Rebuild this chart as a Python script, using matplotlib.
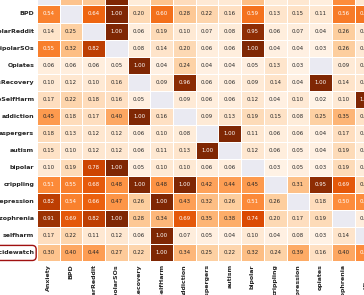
import numpy as np
import pandas as pd
import matplotlib
matplotlib.use('Agg')
import matplotlib.pyplot as plt
import seaborn as sns
from matplotlib.patches import FancyBboxPatch
from matplotlib.transforms import IdentityTransform

nan = np.nan

rows = ['Anxiety', 'BPD', 'BipolarReddit', 'BipolarSOs', 'Opiates', 'OpiatesRecovery',
        'StopSelfHarm', 'addiction', 'aspergers', 'autism', 'bipolar', 'crippling',
        'depression', 'schizophrenia', 'selfharm', 'suicidewatch']
cols = ['Anxiety', 'BPD', 'BipolarReddit', 'BipolarSOs', 'OpiatesRecovery', 'StopSelfHarm',
        'addiction', 'aspergers', 'autism', 'bipolar', 'crippling', 'depression',
        'opiates', 'schizophrenia', 'selfharm', 'suicidewatch']

# one list per row (row-normalised similarity), last columns are cut off in the reference
anxiety = [nan, 0.30, 0.28, 1.00, 0.08, 0.30, 0.18, 0.10, 0.10, 0.32, 0.08, 0.12, 0.06, 0.50, 0.12, 0.40]
bpd = [0.54, nan, 0.64, 1.00, 0.20, 0.60, 0.28, 0.22, 0.16, 0.59, 0.13, 0.15, 0.11, 0.56, 0.58, 0.45]
bipolar_reddit = [0.14, 0.25, nan, 1.00, 0.06, 0.19, 0.10, 0.07, 0.08, 0.95, 0.06, 0.07, 0.04, 0.26, 0.10, 0.15]
bipolar_sos = [0.55, 0.32, 0.82, nan, 0.08, 0.14, 0.20, 0.06, 0.06, 1.00, 0.04, 0.04, 0.03, 0.26, 0.10, 0.15]
opiates = [0.06, 0.06, 0.06, 0.05, 1.00, 0.04, 0.24, 0.04, 0.04, 0.05, 0.13, 0.03, nan, 0.09, 0.10, 0.08]
opiates_recovery = [0.10, 0.12, 0.10, 0.16, nan, 0.09, 0.96, 0.06, 0.06, 0.09, 0.14, 0.04, 1.00, 0.14, 0.10, 0.10]
stop_selfharm = [0.17, 0.22, 0.18, 0.16, 0.05, nan, 0.09, 0.06, 0.06, 0.12, 0.04, 0.10, 0.02, 0.10, 1.00, 0.30]
addiction = [0.45, 0.18, 0.17, 0.40, 1.00, 0.16, nan, 0.09, 0.13, 0.19, 0.15, 0.08, 0.25, 0.35, 0.15, 0.20]
aspergers = [0.18, 0.13, 0.12, 0.12, 0.06, 0.10, 0.08, nan, 1.00, 0.11, 0.06, 0.06, 0.04, 0.17, 0.08, 0.10]
autism = [0.15, 0.10, 0.12, 0.12, 0.06, 0.11, 0.13, 1.00, nan, 0.12, 0.06, 0.05, 0.04, 0.19, 0.08, 0.10]
bipolar = [0.10, 0.19, 0.78, 1.00, 0.05, 0.10, 0.10, 0.06, 0.06, nan, 0.03, 0.05, 0.03, 0.19, 0.08, 0.10]
crippling = [0.51, 0.55, 0.68, 0.48, 1.00, 0.48, 1.00, 0.42, 0.44, 0.45, nan, 0.31, 0.95, 0.69, 0.20, 0.40]
depression = [0.82, 0.54, 0.66, 0.47, 0.26, 1.00, 0.43, 0.32, 0.26, 0.51, 0.26, nan, 0.18, 0.50, 0.50, 0.90]
schizophrenia = [0.91, 0.69, 0.82, 1.00, 0.28, 0.34, 0.69, 0.35, 0.38, 0.74, 0.20, 0.17, 0.19, nan, 0.06, 0.30]
selfharm = [0.17, 0.22, 0.11, 0.12, 0.06, 1.00, 0.07, 0.05, 0.04, 0.10, 0.04, 0.08, 0.03, 0.14, nan, 0.40]
suicidewatch = [0.30, 0.40, 0.44, 0.27, 0.22, 1.00, 0.34, 0.25, 0.22, 0.32, 0.24, 0.39, 0.16, 0.40, 0.50, nan]

df = pd.DataFrame([anxiety, bpd, bipolar_reddit, bipolar_sos, opiates, opiates_recovery,
                   stop_selfharm, addiction, aspergers, autism, bipolar, crippling,
                   depression, schizophrenia, selfharm, suicidewatch],
                  index=rows, columns=cols)

sns.set_theme(style='darkgrid')

fig = plt.figure(figsize=(3.64, 2.95), dpi=100)
# the reference is a crop of a bigger heatmap, so the axes run past the canvas
ax = fig.add_axes([0.1015, 0.1136, 0.9973, 0.9258])
sns.heatmap(df, ax=ax, cmap='Oranges', vmin=0, vmax=1, annot=True, fmt='.2f',
            annot_kws={'size': 3.9}, linewidths=0.5, linecolor='white', cbar=False)
ax.grid(False)
ax.set_xlabel('')
ax.set_ylabel('')
ax.tick_params(axis='both', length=0, pad=2, labelsize=4.5)
ax.set_xticklabels(cols, rotation=90, fontweight='bold')
ax.set_yticklabels(rows, rotation=0, fontweight='bold')

# red rounded box around the suicidewatch label
fig.canvas.draw()
renderer = fig.canvas.get_renderer()
lab = ax.get_yticklabels()[rows.index('suicidewatch')]
bb = lab.get_window_extent(renderer)
i = rows.index('suicidewatch')
y_top = ax.transData.transform((0, i))[1]
y_bot = ax.transData.transform((0, i + 1))[1]
box = FancyBboxPatch((bb.x0 - 4, y_bot + 1), bb.x1 - bb.x0 + 6, y_top - y_bot - 2,
                     boxstyle='round,pad=0,rounding_size=4', transform=IdentityTransform(),
                     fc='none', ec='#a01010', lw=1.0, zorder=5)
fig.patches.append(box)

fig.savefig('out.png', dpi=100)
